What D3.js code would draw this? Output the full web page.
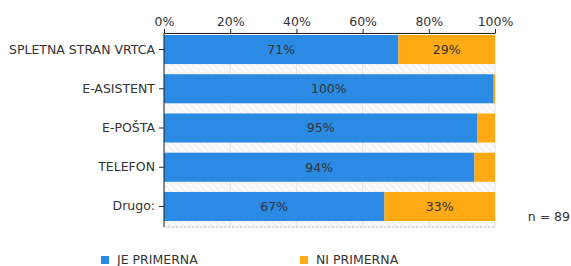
<!DOCTYPE html>
<html>
<head>
<meta charset="utf-8">
<script src="https://cdn.jsdelivr.net/npm/d3@7"></script>
<style>
  body { margin: 0; background: #fff; }
  svg text { font-family: "DejaVu Sans", Verdana, sans-serif; fill: #333; }
</style>
</head>
<body>
<div id="chart"></div>
<script>
// data
const categories = ['SPLETNA STRAN VRTCA', 'E-ASISTENT', 'E-POŠTA', 'TELEFON', 'Drugo:'];
const jePrimerna = [70.8, 99.6, 94.7, 93.8, 66.6];
const niPrimerna = [29.2, 0.4, 5.3, 6.2, 33.4];
const seriesNames = ['JE PRIMERNA', 'NI PRIMERNA'];
const seriesColors = ['#2a8ae4', '#ffa914'];
const xTicks = [0, 20, 40, 60, 80, 100];
const nLabel = 'n = 89';

const width = 571, height = 266;
const fs = '12.5px';
const svg = d3.select('#chart').append('svg')
  .attr('width', width)
  .attr('height', height);

const x = d3.scaleLinear().domain([0, 100]).range([164, 495]);
const y = d3.scaleBand().domain(categories).range([35, 221]).paddingInner(0.26);
const plotTop = 33, plotBottom = 227;

// hatched plot background
const defs = svg.append('defs');
const pat = defs.append('pattern')
  .attr('id', 'hatch')
  .attr('patternUnits', 'userSpaceOnUse')
  .attr('width', 5).attr('height', 5)
  .attr('patternTransform', 'rotate(-45)');
pat.append('rect').attr('width', 5).attr('height', 5).attr('fill', '#fafafa');
pat.append('line').attr('x1', 0).attr('y1', 0).attr('x2', 0).attr('y2', 5)
  .attr('stroke', '#e6e6e6').attr('stroke-width', 1.2);

svg.append('rect')
  .attr('x', x(0)).attr('y', plotTop)
  .attr('width', x(100) - x(0)).attr('height', plotBottom - plotTop)
  .attr('fill', 'url(#hatch)')
  .attr('stroke', '#e4e4e4');

// grid
svg.append('g').selectAll('line')
  .data(xTicks.slice(1, -1))
  .join('line')
  .attr('x1', d => x(d)).attr('x2', d => x(d))
  .attr('y1', plotTop).attr('y2', plotBottom)
  .attr('stroke', '#e2e2e2');

// stacked bars
const rows = categories.map((c, i) => ({ cat: c, vals: [jePrimerna[i], niPrimerna[i]] }));
rows.forEach(r => {
  let acc = 0;
  r.vals.forEach((v, k) => {
    svg.append('rect')
      .attr('x', x(acc))
      .attr('y', y(r.cat))
      .attr('width', x(acc + v) - x(acc))
      .attr('height', y.bandwidth())
      .attr('fill', seriesColors[k]);
    if (v >= 10) {
      svg.append('text')
        .attr('x', (x(acc) + x(acc + v)) / 2)
        .attr('y', y(r.cat) + y.bandwidth() / 2)
        .attr('dy', '0.35em')
        .attr('text-anchor', 'middle')
        .style('font-size', fs)
        .text(Math.round(v) + '%');
    }
    acc += v;
  });
});

// top axis
const xAxis = svg.append('g')
  .attr('transform', `translate(0,${plotTop})`)
  .call(d3.axisTop(x).tickValues(xTicks).tickFormat(d => d + '%').tickSize(4).tickSizeOuter(0));
xAxis.select('.domain').attr('stroke', '#222');
xAxis.selectAll('.tick line').attr('stroke', '#222');
xAxis.selectAll('.tick text').style('font-size', fs).attr('fill', '#333').attr('font-family', null);

// left axis
const yAxis = svg.append('g')
  .attr('transform', `translate(${x(0)},0)`)
  .call(d3.axisLeft(y).tickSize(5).tickSizeOuter(0).tickPadding(4));
yAxis.select('.domain').attr('d', `M0,${plotTop}V${plotBottom}`).attr('stroke', '#222');
yAxis.selectAll('.tick line').attr('stroke', '#222');
yAxis.selectAll('.tick text').style('font-size', fs).attr('fill', '#333').attr('font-family', null);

// bottom dashed edge
svg.append('line')
  .attr('x1', x(0)).attr('x2', x(100))
  .attr('y1', plotBottom).attr('y2', plotBottom)
  .attr('stroke', '#ccc').attr('stroke-dasharray', '2,2');

svg.append('text')
  .attr('x', 570).attr('y', 221)
  .attr('text-anchor', 'end')
  .style('font-size', fs)
  .text(nLabel);

// legend
const legendX = [101, 300];
seriesNames.forEach((name, k) => {
  svg.append('rect')
    .attr('x', legendX[k]).attr('y', 256)
    .attr('width', 8).attr('height', 8)
    .attr('fill', seriesColors[k]);
  svg.append('text')
    .attr('x', legendX[k] + 16).attr('y', 264)
    .style('font-size', fs)
    .text(name);
});
</script>
</body>
</html>
